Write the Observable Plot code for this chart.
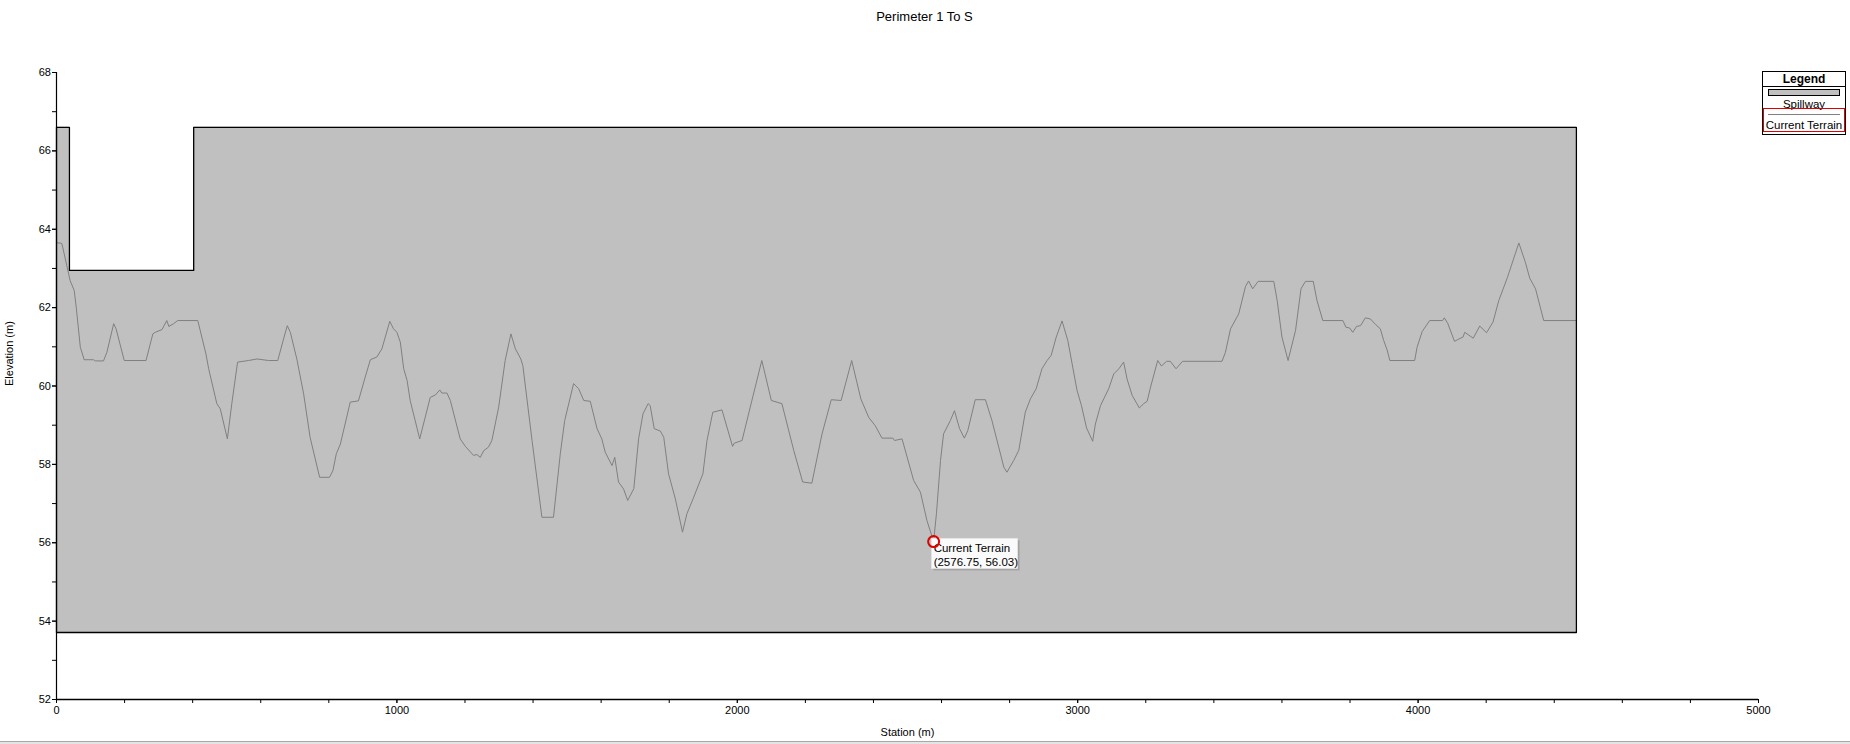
<!DOCTYPE html>
<html><head><meta charset="utf-8">
<script src="https://cdn.jsdelivr.net/npm/d3@7"></script>
<script src="https://cdn.jsdelivr.net/npm/@observablehq/plot@0.6"></script>
<style>
html,body{margin:0;padding:0;background:#fff;}
#wrap{position:relative;width:1850px;height:744px;overflow:hidden;font-family:"Liberation Sans",Arial,sans-serif;color:#000;}
#legend{position:absolute;left:1762px;top:71px;width:82px;height:62px;border:1px solid #000;background:#fff;font-size:11.5px;}
#legend .hdr{position:absolute;left:0;top:0;width:82px;height:14px;border-bottom:1px solid #000;text-align:center;font-weight:bold;font-size:12px;line-height:14px;}
#legend .sw{position:absolute;left:5px;top:17px;width:70px;height:5px;background:#c0c0c0;border:1px solid #000;}
#legend .t1{position:absolute;left:0;top:25px;width:82px;text-align:center;line-height:14px;}
#legend .sel{position:absolute;left:0px;top:36px;width:80px;height:22px;border:1px solid #e00000;}
#legend .ln{position:absolute;left:5px;top:42px;width:72px;height:1px;background:#808080;}
#legend .t2{position:absolute;left:0;top:46px;width:82px;text-align:center;line-height:14px;white-space:nowrap;}
#bar1{position:absolute;left:0;top:741px;width:1850px;height:1px;background:#a8a8a8;}
#bar2{position:absolute;left:0;top:742px;width:1850px;height:2px;background:#e4e4e4;}
</style></head><body><div id="wrap"></div>
<script>
const chartTitle = "Perimeter 1 To S";
const xLabel = "Station (m)";
const yLabel = "Elevation (m)";
const xMajorTicks = [0, 1000, 2000, 3000, 4000, 5000];
const yMajorTicks = [52, 54, 56, 58, 60, 62, 64, 66, 68];

// Spillway outline (station, elevation)
const spillwayStation = [0, 38, 38, 403, 403, 4465];
const spillwayTop = [66.6, 66.6, 62.95, 62.95, 66.6, 66.6];
const spillwayBottom = 53.71;

// Current terrain profile
const terrainStation = [0,11,16,40,52,58,70,79,81,109,114,138,148,168,175,199,263,283,290,310,324,330,344,356,415,439,447,471,481,502,515,532,564,589,623,650,667,678,687,706,726,745,773,802,812,822,834,863,887,
907,922,941,956,979,990,1000,1010,1020,1030,1039,1067,1098,1113,1126,1132,1147,1157,1186,1201,1225,1235,1245,1255,1269,1279,1299,1318,1335,1348,1364,1370,1397,1426,1460,1480,1493,1519,1534,1549,1568,1588,1602,1612,1632,1640,1651,1666,1678,1696,1710,1723,1738,1744,1756,1774,
1784,1798,1818,1839,1852,1870,1899,1911,1928,1955,1986,1991,2014,2038,2072,2100,2131,2166,2192,2219,2249,2276,2305,2336,2363,2386,2405,2425,2457,2462,2484,2518,2538,2557,2576.75,2585,2597,2606,2626,2638,2653,2667,2677,2699,2729,2748,2768,2783,2792,2812,2827,2846,2861,2878,2895,2910,2922,2937,2954,2971,2998,3011,3026,3044,3052,3067,3091,3106,3121,3135,3145,3160,3181,3194,3204,3214,3235,3246,3261,3272,3289,3308,3424,3434,3449,3473,3493,3502,3514,3530,3576,3586,3600,3618,3640,3656,3669,3692,3703,3720,3779,3788,3799,3808,3819,3831,3845,3860,3875,3889,3899,3909,3917,3990,3997,4012,4034,4072,4077,4087,4107,4120,4132,4137,4162,4181,4201,4220,4237,4262,4296,4315,4328,4345,4369,4465];
const terrainElevation = [63.65,63.65,63.63,62.69,62.44,62.01,60.99,60.74,60.67,60.67,60.64,60.64,60.86,61.59,61.46,60.65,60.65,61.33,61.37,61.44,61.67,61.52,61.59,61.67,61.67,60.82,60.44,59.55,59.42,58.65,59.55,60.61,60.65,60.69,60.65,60.65,61.2,61.54,61.37,60.69,59.8,58.69,57.67,57.67,57.84,58.27,58.52,59.59,59.62,
60.23,60.67,60.74,60.95,61.65,61.46,61.37,61.12,60.44,60.14,59.63,58.65,59.71,59.77,59.9,59.82,59.82,59.63,58.65,58.46,58.23,58.25,58.18,58.35,58.44,58.61,59.46,60.65,61.33,60.95,60.69,60.52,58.61,56.65,56.65,58.27,59.12,60.06,59.93,59.63,59.61,58.91,58.65,58.31,57.97,58.18,57.55,57.37,57.08,57.38,58.65,59.29,59.55,59.5,58.91,58.85,
58.69,57.76,57.12,56.27,56.74,57.12,57.76,58.61,59.33,59.39,58.46,58.54,58.61,59.46,60.65,59.63,59.55,58.35,57.55,57.52,58.78,59.65,59.63,60.65,59.67,59.2,58.99,58.67,58.67,58.61,58.65,57.59,57.29,56.57,56.03,56.74,58.1,58.78,59.12,59.37,58.91,58.67,58.86,59.65,59.65,59.12,58.44,57.93,57.8,58.1,58.36,59.33,59.67,59.93,60.44,60.65,60.78,61.25,61.66,61.16,59.89,59.5,58.93,58.59,59.03,59.5,59.93,60.31,60.44,60.61,60.18,59.76,59.44,59.55,59.61,59.97,60.65,60.51,60.63,60.63,60.44,60.63,60.63,60.86,61.46,61.84,62.54,62.68,62.48,62.67,62.67,62.18,61.25,60.65,61.42,62.48,62.67,62.67,62.18,61.67,61.67,61.5,61.48,61.37,61.52,61.54,61.74,61.71,61.57,61.46,61.16,60.92,60.65,60.65,60.99,61.39,61.67,61.67,61.74,61.6,61.14,61.2,61.25,61.37,61.22,61.53,61.36,61.63,62.18,62.76,63.65,63.16,62.75,62.48,61.67,61.67];

// Highlighted point
const markerStation = [2576.75];
const markerElevation = [56.03];
const markerSeries = "Current Terrain";

const terrain = terrainStation.map((s, i) => ({station: s, elevation: terrainElevation[i]}));
const spillArea = spillwayStation.map((s, i) => ({station: s, top: spillwayTop[i], bottom: spillwayBottom}));
const spillOutline = [
  {station: spillwayStation[0], elevation: spillwayBottom},
  ...spillwayStation.map((s, i) => ({station: s, elevation: spillwayTop[i]})),
  {station: spillwayStation[spillwayStation.length - 1], elevation: spillwayBottom},
  {station: spillwayStation[0], elevation: spillwayBottom}
];
const marker = markerStation.map((s, i) => ({station: s, elevation: markerElevation[i]}));
const fmt = d => `(${d.station.toFixed(2)}, ${d.elevation.toFixed(2)})`;

const font = '"Liberation Sans", Arial, sans-serif';
const plot = Plot.plot({
  width: 1850, height: 744,
  marginLeft: 56, marginRight: 92, marginTop: 72, marginBottom: 45,
  style: {fontFamily: font, fontSize: "11px", background: "white", color: "black"},
  x: {domain: [0, 5000]},
  y: {domain: [52, 68]},
  marks: [
    Plot.areaY(spillArea, {x: "station", y1: "bottom", y2: "top", fill: "#c0c0c0"}),
    Plot.line(terrain, {x: "station", y: "elevation", stroke: "#808080", strokeWidth: 1}),
    Plot.line(spillOutline, {x: "station", y: "elevation", stroke: "#000", strokeWidth: 1.3}),
    Plot.ruleX([0], {stroke: "#000", strokeWidth: 1.2}),
    Plot.ruleY([52], {stroke: "#000", strokeWidth: 1.4}),
    Plot.axisX(d3.range(0, 5001, 200), {tickSize: 4, text: null, label: null}),
    Plot.axisX(xMajorTicks, {tickSize: 4, tickPadding: 3, tickFormat: d => String(d), label: null, fontSize: 11}),
    Plot.axisY(d3.range(52, 69, 1), {tickSize: 4, text: null, label: null}),
    Plot.axisY(yMajorTicks, {tickSize: 4, tickPadding: 1.5, tickFormat: d => String(d), label: null, fontSize: 11}),
    Plot.text([chartTitle], {frameAnchor: "top", text: d => d, dy: -61, dx: 17, fontSize: 13}),
    Plot.text([xLabel], {frameAnchor: "bottom", text: d => d, dy: 36, fontSize: 11}),
    Plot.text([yLabel], {frameAnchor: "left", text: d => d, dx: -47, rotate: -90, fontSize: 11}),
    // tooltip
    Plot.rect(marker, {x1: "station", x2: "station", y1: "elevation", y2: "elevation",
      insetLeft: 0.4, insetRight: -86.4, insetTop: -0.7, insetBottom: -29.3, fill: "#000", fillOpacity: 0.15}),
    Plot.rect(marker, {x1: "station", x2: "station", y1: "elevation", y2: "elevation",
      insetLeft: -1.6, insetRight: -84.4, insetTop: -2.7, insetBottom: -27.3, fill: "#fafafa", stroke: "#e6e6e6", strokeWidth: 0.8}),
    Plot.text(marker, {x: "station", y: "elevation", text: () => markerSeries, textAnchor: "start", dx: 0, dy: 7, fontSize: 11.5, fill: "#000"}),
    Plot.text(marker, {x: "station", y: "elevation", text: fmt, textAnchor: "start", dx: 0, dy: 21, fontSize: 11.5, fill: "#000"}),
    Plot.dot(marker, {x: "station", y: "elevation", r: 5.5, stroke: "#e00000", strokeWidth: 2, fill: "none"}),
    Plot.dot(marker, {x: "station", y: "elevation", symbol: "plus", r: 2, fill: "#e00000"})
  ]
});
const wrap = document.getElementById("wrap");
wrap.appendChild(plot);
const legend = document.createElement("div");
legend.id = "legend";
legend.innerHTML = '<div class="hdr">Legend</div><div class="sw"></div><div class="t1">Spillway</div><div class="sel"></div><div class="ln"></div><div class="t2">Current Terrain</div>';
wrap.appendChild(legend);
const b1 = document.createElement("div"); b1.id = "bar1"; wrap.appendChild(b1);
const b2 = document.createElement("div"); b2.id = "bar2"; wrap.appendChild(b2);
</script>
</body></html>
